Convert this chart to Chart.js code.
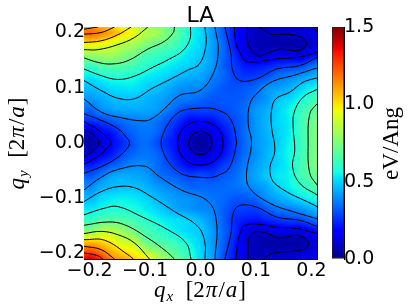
<!DOCTYPE html>
<html>
<head>
<meta charset="utf-8">
<title>LA</title>
<script src="https://cdn.jsdelivr.net/npm/chart.js@4"></script>
<style>
  html, body { margin: 0; padding: 0; background: #fff; }
  #wrap { position: relative; width: 407px; height: 305px; overflow: hidden; }
  canvas { position: absolute; left: 0; top: 0; }
</style>
</head>
<body>
<div id="wrap">
  <canvas id="mapa" width="407" height="305"></canvas>
  <canvas id="barra" width="407" height="305"></canvas>
</div>
<script>
// eixos e ticks
const qxGrid = [-.2,-.18,-.16,-.14,-.12,-.1,-.08,-.06,-.04,-.02,0,.02,.04,.06,.08,.1,.12,.14,.16,.18,.2];
const qyGrid = [.2,.18,.16,.14,.12,.1,.08,.06,.04,.02,0,-.02,-.04,-.06,-.08,-.1,-.12,-.14,-.16,-.18,-.2];
const qLimit = 0.21;
const qTicks = [-.2,-.1,0,.1,.2];
const cbTicks = [0,.5,1,1.5];
const cbMax = 1.5;
const chartTitle = 'LA';

// valores, uma linha por qy (de cima para baixo), em eV/Ang
const fieldRows = [
  [1.19,1.15,1.09,1.01,.945,.85,.82,.74,.675,.57,.51,.42,.32,.22,.13,.085,.095,.105,.105,.115,.13],
  [.995,.97,.93,.865,.83,.77,.715,.685,.63,.555,.505,.43,.34,.22,.125,.075,.065,.055,.055,.065,.105],
  [.8,.82,.82,.77,.73,.66,.63,.6,.565,.52,.485,.42,.34,.255,.16,.095,.115,.14,.135,.125,.18],
  [.63,.675,.685,.675,.64,.6,.57,.545,.515,.495,.46,.42,.33,.275,.22,.21,.23,.255,.275,.285,.34],
  [.53,.56,.58,.58,.57,.54,.52,.495,.465,.445,.43,.38,.34,.285,.265,.275,.305,.355,.38,.41,.445],
  [.465,.485,.515,.525,.525,.495,.475,.445,.41,.39,.39,.35,.315,.305,.315,.34,.4,.42,.445,.495,.54],
  [.41,.435,.465,.475,.475,.455,.435,.41,.37,.36,.34,.315,.315,.315,.33,.37,.41,.475,.505,.56,.62],
  [.33,.39,.42,.43,.435,.435,.42,.37,.315,.285,.285,.285,.295,.315,.35,.41,.445,.495,.55,.62,.675],
  [.255,.275,.315,.35,.37,.38,.36,.305,.255,.19,.19,.2,.255,.295,.34,.41,.455,.505,.54,.63,.71],
  [.095,.18,.22,.295,.34,.36,.34,.275,.2,.13,.095,.13,.2,.275,.35,.41,.455,.495,.54,.63,.72],
  [.05,.105,.19,.245,.315,.35,.305,.245,.19,.095,.03,.095,.18,.265,.34,.41,.445,.495,.55,.62,.72],
  [.105,.17,.22,.295,.34,.36,.34,.275,.2,.13,.095,.13,.2,.275,.35,.4,.455,.505,.56,.63,.72],
  [.22,.265,.315,.36,.39,.39,.35,.305,.245,.19,.19,.21,.265,.315,.37,.42,.465,.505,.55,.64,.72],
  [.315,.37,.43,.445,.435,.42,.37,.34,.315,.285,.305,.285,.315,.34,.39,.435,.485,.53,.55,.64,.685],
  [.39,.445,.465,.475,.475,.455,.42,.39,.37,.335,.335,.335,.34,.35,.37,.4,.435,.495,.54,.59,.64],
  [.455,.505,.53,.54,.53,.505,.465,.435,.41,.4,.38,.36,.34,.315,.315,.34,.4,.435,.475,.52,.56],
  [.53,.56,.58,.58,.57,.54,.505,.465,.43,.41,.39,.38,.33,.285,.275,.275,.315,.36,.37,.4,.445],
  [.62,.675,.685,.675,.64,.6,.56,.53,.515,.495,.455,.4,.33,.255,.22,.21,.23,.255,.275,.285,.33],
  [.77,.86,.86,.8,.73,.66,.62,.57,.53,.505,.485,.42,.34,.255,.15,.095,.115,.135,.135,.135,.18],
  [1.07,1.04,.98,.91,.88,.73,.675,.65,.61,.55,.495,.42,.33,.23,.13,.075,.055,.05,.055,.055,.105],
  [1.29,1.21,1.1,1.04,.98,.91,.82,.74,.665,.595,.505,.43,.315,.22,.125,.075,.085,.095,.095,.105,.13]
];

// contornos, pares [qx, qy]
const nivel01a = [[-.21,.025],[-.194,.016],[-.183,0],[-.194,-.014],[-.21,-.025]];
const nivel01b = [[.021,0],[.018,.0105],[.0105,.018],[0,.021],[-.0105,.018],[-.018,.0105],[-.021,0],[-.018,-.0105],[-.0105,-.018],[0,-.021],[.0105,-.018],[.018,-.0105],[.021,0]];
const nivel01c = [[.085,.21],[.086,.179],[.103,.158],[.124,.164],[.145,.17],[.175,.167],[.191,.179],[.181,.192],[.151,.197],[.127,.197],[.106,.21]];
const nivel01d = [[.203,.21],[.21,.202]];
const nivel01e = [[.086,-.21],[.086,-.181],[.089,-.169],[.101,-.16],[.121,-.164],[.143,-.172],[.173,-.167],[.194,-.178],[.191,-.19],[.167,-.196],[.133,-.199],[.113,-.21]];
const nivel02a = [[-.21,.039],[-.185,.024],[-.167,.008],[-.161,0],[-.167,-.008],[-.185,-.024],[-.21,-.039]];
const nivel02b = [[.041,0],[.036,.02],[.021,.034],[0,.039],[-.021,.034],[-.036,.02],[-.041,0],[-.036,-.02],[-.021,-.035],[0,-.04],[.021,-.035],[.036,-.02],[.041,0]];
const nivel02c = [[.061,.21],[.064,.179],[.071,.164],[.08,.149],[.103,.147],[.133,.152],[.175,.155],[.21,.164]];
const nivel02d = [[.21,-.164],[.175,-.155],[.133,-.152],[.103,-.147],[.08,-.149],[.071,-.164],[.067,-.181],[.064,-.21]];
const nivel03a = [[-.21,.053],[-.179,.041],[-.149,.026],[-.134,.011],[-.128,0],[-.134,-.012],[-.152,-.028],[-.179,-.043],[-.21,-.055]];
const nivel03b = [[.065,0],[.06,.03],[.049,.05],[.035,.058],[.019,.063],[-.006,.063],[-.032,.059],[-.046,.05],[-.056,.038],[-.066,.02],[-.071,0],[-.066,-.019],[-.056,-.037],[-.044,-.049],[-.029,-.058],[-.003,-.062],[.022,-.062],[.037,-.056],[.049,-.049],[.059,-.028],[.065,0]];
const nivel03c = [[.044,.21],[.055,.161],[.058,.131],[.071,.113],[.101,.116],[.137,.134],[.179,.14],[.21,.155]];
const nivel03d = [[.21,-.151],[.179,-.14],[.137,-.134],[.101,-.116],[.071,-.113],[.059,-.127],[.055,-.163],[.044,-.21]];
const nivel04a = [[-.21,.08],[-.179,.056],[-.149,.047],[-.101,.04],[-.083,.047],[-.065,.062],[-.038,.086],[-.001,.095],[.023,.126],[.032,.168],[.026,.21]];
const nivel04b = [[-.21,-.085],[-.179,-.062],[-.149,-.048],[-.101,-.042],[-.074,-.061],[-.035,-.085],[.014,-.106],[.029,-.145],[.026,-.21]];
const nivel04c = [[.21,.136],[.167,.122],[.131,.112],[.104,.092],[.089,.071],[.086,.035],[.092,0],[.083,-.055],[.089,-.082],[.125,-.109],[.166,-.124],[.21,-.137]];
const nivel05a = [[-.21,.113],[-.179,.095],[-.149,.081],[-.119,.08],[-.089,.098],[-.059,.113],[-.023,.132],[-.002,.143],[.01,.179],[.008,.21]];
const nivel05b = [[-.21,-.106],[-.179,-.088],[-.149,-.079],[-.119,-.081],[-.089,-.097],[-.047,-.124],[-.005,-.151],[.008,-.181],[.008,-.21]];
const nivel05c = [[.21,.118],[.185,.11],[.161,.092],[.136,.08],[.128,.059],[.128,.029],[.134,-.013],[.125,-.049],[.137,-.076],[.21,-.115]];
const nivel06a = [[-.21,.134],[-.179,.122],[-.149,.115],[-.119,.121],[-.086,.137],[-.056,.152],[-.032,.167],[-.019,.188],[-.018,.21]];
const nivel06b = [[-.21,-.13],[-.173,-.118],[-.149,-.115],[-.107,-.133],[-.059,-.157],[-.026,-.181],[-.017,-.21]];
const nivel06c = [[.21,.097],[.185,.083],[.169,.056],[.167,.029],[.17,-.013],[.166,-.043],[.179,-.073],[.21,-.094]];
const nivel07a = [[-.21,.154],[-.185,.146],[-.161,.143],[-.131,.149],[-.095,.17],[-.065,.184],[-.049,.2],[-.047,.21]];
const nivel07b = [[-.21,-.149],[-.167,-.143],[-.137,-.148],[-.095,-.172],[-.062,-.196],[-.047,-.21]];
const nivel07c = [[.21,.071],[.197,.053],[.194,0],[.197,-.055],[.21,-.076]];
const nivel08a = [[-.21,.169],[-.185,.169],[-.149,.178],[-.119,.191],[-.095,.21]];
const nivel08b = [[-.21,-.164],[-.179,-.16],[-.149,-.166],[-.119,-.181],[-.092,-.21]];
const nivel09a = [[-.21,.182],[-.179,.185],[-.149,.196],[-.125,.21]];
const nivel09b = [[-.21,-.175],[-.173,-.176],[-.131,-.202],[-.121,-.21]];
const nivel10a = [[-.21,.197],[-.179,.2],[-.155,.21]];
const nivel10b = [[-.21,-.187],[-.179,-.193],[-.155,-.21]];
const nivel11a = [[-.21,.206],[-.185,.21]];
const nivel11b = [[-.21,-.199],[-.185,-.204],[-.176,-.21]];

const contornos = [
  nivel01a,nivel01b,nivel01c,nivel01d,nivel01e,
  nivel02a,nivel02b,nivel02c,nivel02d,
  nivel03a,nivel03b,nivel03c,nivel03d,
  nivel04a,nivel04b,nivel04c,
  nivel05a,nivel05b,nivel05c,
  nivel06a,nivel06b,nivel06c,
  nivel07a,nivel07b,nivel07c,
  nivel08a,nivel08b,nivel09a,nivel09b,
  nivel10a,nivel10b,nivel11a,nivel11b
];

// textos dos eixos, pedaco a pedaco: [texto, italico, subscrito]
const xTitulo = [['q',1,0],['x',1,1],['  [2',0,0],['π',1,0],['/',0,0],['a',1,0],[']',0,0]];
const yTitulo = [['q',1,0],['y',1,1],['  [2',0,0],['π',1,0],['/',0,0],['a',1,0],[']',0,0]];
const cbTitulo = [['eV/Ang',0,0]];

// mapa de cores jet
function rampa(v, pts) {
  for (let i = 1; i < pts.length; i++) {
    if (v <= pts[i][0]) {
      const t = (v - pts[i-1][0]) / (pts[i][0] - pts[i-1][0]);
      return pts[i-1][1] + t * (pts[i][1] - pts[i-1][1]);
    }
  }
  return pts[pts.length-1][1];
}
function jet(v) {
  v = Math.max(0, Math.min(1, v));
  return [
    rampa(v, [[0,0],[.35,0],[.66,1],[.89,1],[1,.5]]),
    rampa(v, [[0,0],[.125,0],[.375,1],[.64,1],[.91,0],[1,0]]),
    rampa(v, [[0,.5],[.11,1],[.34,1],[.65,0],[1,0]])
  ].map(c => Math.round(c * 255));
}
function jetCss(v) {
  return 'rgb(' + jet(v).join(',') + ')';
}

// leitura da grade com extrapolacao nas bordas (as celulas vao ate 0.21)
function amostra(i, j) {
  const n = fieldRows.length - 1, m = fieldRows[0].length - 1;
  const ci = Math.max(0, Math.min(m, i)), cj = Math.max(0, Math.min(n, j));
  let v = fieldRows[cj][ci];
  if (i !== ci) v += (i - ci) * (v - fieldRows[cj][ci + (i < 0 ? 1 : -1)]);
  if (j !== cj) v += (j - cj) * (fieldRows[cj][ci] - fieldRows[cj + (j < 0 ? 1 : -1)][ci]);
  return v;
}
function catmull(a, b, c, d, t) {
  return b + .5 * t * (c - a + t * (2*a - 5*b + 4*c - d + t * (3*(b - c) + d - a)));
}
function bicubico(u, v) {
  const i = Math.floor(u), j = Math.floor(v), lin = [];
  for (let k = -1; k <= 2; k++) {
    lin.push(catmull(amostra(i-1,j+k), amostra(i,j+k), amostra(i+1,j+k), amostra(i+2,j+k), u - i));
  }
  return catmull(lin[0], lin[1], lin[2], lin[3], v - j);
}

// suaviza as celulas depois de desenhadas, como o imshow interpolado
const suavizaMapa = {
  id: 'suavizaMapa',
  afterDatasetDraw(chart, args) {
    if (args.index !== 0) return;
    const { left, top, right, bottom } = chart.chartArea;
    const x0 = Math.round(left), y0 = Math.round(top);
    const w = Math.round(right) - x0, h = Math.round(bottom) - y0;
    const off = document.createElement('canvas');
    off.width = w; off.height = h;
    const octx = off.getContext('2d');
    const img = octx.createImageData(w, h);
    const dx = qxGrid[1] - qxGrid[0], dy = qyGrid[0] - qyGrid[1];
    for (let py = 0; py < h; py++) {
      const qy = chart.scales.y.getValueForPixel(y0 + py + .5);
      for (let px = 0; px < w; px++) {
        const qx = chart.scales.x.getValueForPixel(x0 + px + .5);
        const c = jet(bicubico((qx - qxGrid[0]) / dx, (qyGrid[0] - qy) / dy) / cbMax);
        const p = 4 * (py * w + px);
        img.data[p] = c[0]; img.data[p+1] = c[1]; img.data[p+2] = c[2]; img.data[p+3] = 255;
      }
    }
    octx.putImageData(img, 0, 0);
    chart.ctx.drawImage(off, x0, y0);
  }
};

function textoMisto(ctx, partes, cx, cy, angulo, tam, tamSub) {
  const fonte = (p) => (p[1] ? 'italic ' : '') + (p[2] ? tamSub : tam) + 'px "Liberation Serif"';
  let total = 0;
  partes.forEach(p => { ctx.font = fonte(p); total += ctx.measureText(p[0]).width + 1; });
  ctx.save();
  ctx.translate(cx, cy);
  ctx.rotate(angulo);
  ctx.fillStyle = '#000';
  ctx.textBaseline = 'alphabetic';
  ctx.textAlign = 'left';
  let x = -total / 2;
  partes.forEach(p => {
    ctx.font = fonte(p);
    ctx.fillText(p[0], x, p[2] ? 4 : 0);
    x += ctx.measureText(p[0]).width + 1;
  });
  ctx.restore();
}

const titulosMapa = {
  id: 'titulosMapa',
  afterDraw(chart) {
    const a = chart.chartArea, mid = (a.left + a.right) / 2, midY = (a.top + a.bottom) / 2;
    textoMisto(chart.ctx, xTitulo, mid, 297, 0, 23, 15);
    textoMisto(chart.ctx, yTitulo, 24, midY, -Math.PI / 2, 23, 15);
  }
};
const tituloBarra = {
  id: 'tituloBarra',
  afterDraw(chart) {
    const a = chart.chartArea;
    textoMisto(chart.ctx, cbTitulo, 398, (a.top + a.bottom) / 2, -Math.PI / 2, 23, 15);
  }
};

const tickTexto = v => v.toFixed(1).replace('-', '\u2212');
function eixoTicks(scale) {
  scale.ticks = qTicks.map(v => ({ value: v }));
}
const gradeEixo = { drawOnChartArea: false, color: '#000', tickLength: -4, tickWidth: 1 };
const bordaEixo = { color: '#000', width: 1 };
const fonteTick = { family: '"DejaVu Sans"', size: 19 };

// celulas da grade
const celulas = [];
fieldRows.forEach((linha, j) => {
  linha.forEach((v, i) => celulas.push({ x: qxGrid[i], y: qyGrid[j], v: v }));
});

const datasets = [{
  label: 'LA',
  data: celulas,
  order: 1,
  showLine: false,
  pointStyle: 'rect',
  pointBorderWidth: 0,
  pointRadius: (c) => {
    const e = c.chart.scales.x;
    return Math.SQRT2 * Math.abs(e.getPixelForValue(qxGrid[1]) - e.getPixelForValue(qxGrid[0])) / 2 + .5;
  },
  pointBackgroundColor: (c) => jetCss(c.raw.v / cbMax)
}];
contornos.forEach((linha, n) => {
  datasets.push({
    label: 'contorno ' + n,
    data: linha.map(p => ({ x: p[0], y: p[1] })),
    order: 0,
    showLine: true,
    pointRadius: 0,
    borderColor: '#000',
    borderWidth: 1,
    tension: 0.4
  });
});

new Chart(document.getElementById('mapa'), {
  type: 'scatter',
  data: { datasets: datasets },
  plugins: [suavizaMapa, titulosMapa],
  options: {
    responsive: false,
    animation: false,
    events: [],
    layout: { padding: 0 },
    plugins: {
      legend: { display: false },
      tooltip: { enabled: false },
      title: {
        display: true,
        text: chartTitle,
        fullSize: false,
        color: '#000',
        font: { family: '"DejaVu Sans"', size: 22, weight: 'normal', lineHeight: 1 },
        padding: { top: 5, bottom: 0 }
      }
    },
    scales: {
      x: {
        type: 'linear', position: 'bottom', min: -qLimit, max: qLimit,
        afterBuildTicks: eixoTicks,
        afterFit: (s) => { s.height = 46; },
        grid: gradeEixo, border: bordaEixo,
        ticks: { callback: tickTexto, color: '#000', font: fonteTick, padding: 5, maxRotation: 0, autoSkip: false }
      },
      y: {
        type: 'linear', position: 'left', min: -qLimit, max: qLimit,
        afterBuildTicks: eixoTicks,
        afterFit: (s) => { s.width = 84; },
        grid: gradeEixo, border: bordaEixo,
        ticks: { callback: tickTexto, color: '#000', font: fonteTick, padding: 3, autoSkip: false }
      },
      xTop: {
        type: 'linear', axis: 'x', position: 'top', min: -qLimit, max: qLimit,
        afterBuildTicks: eixoTicks,
        afterFit: (s) => { s.height = 0; },
        grid: gradeEixo, border: bordaEixo,
        ticks: { display: false }
      },
      yRight: {
        type: 'linear', axis: 'y', position: 'right', min: -qLimit, max: qLimit,
        afterBuildTicks: eixoTicks,
        afterFit: (s) => { s.width = 90; },
        grid: gradeEixo, border: bordaEixo,
        ticks: { display: false }
      }
    }
  }
});

// barra de cores
new Chart(document.getElementById('barra'), {
  type: 'bar',
  data: {
    labels: ['eV/Ang'],
    datasets: [{
      data: [[0, cbMax]],
      categoryPercentage: 1,
      barPercentage: 1,
      borderColor: '#222',
      borderWidth: 1,
      borderSkipped: false,
      backgroundColor: (c) => {
        const a = c.chart.chartArea;
        if (!a) return '#000';
        const g = c.chart.ctx.createLinearGradient(0, a.bottom, 0, a.top);
        for (let k = 0; k <= 64; k++) g.addColorStop(k / 64, jetCss(k / 64));
        return g;
      }
    }]
  },
  plugins: [tituloBarra],
  options: {
    responsive: false,
    animation: false,
    events: [],
    layout: { padding: { left: 332, top: 27, bottom: 46 } },
    plugins: { legend: { display: false }, tooltip: { enabled: false } },
    scales: {
      x: { display: false },
      y: {
        position: 'right', min: 0, max: cbMax,
        afterBuildTicks: (s) => { s.ticks = cbTicks.map(v => ({ value: v })); },
        afterFit: (s) => { s.width = 63; },
        grid: {
          drawOnChartArea: false, tickLength: -4, tickWidth: 1,
          tickColor: (c) => (c.tick && (c.tick.value === 0 || c.tick.value === cbMax) ? 'rgba(0,0,0,0)' : '#000')
        },
        border: bordaEixo,
        ticks: { callback: tickTexto, color: '#000', font: fonteTick, padding: 4, autoSkip: false }
      }
    }
  }
});
</script>
</body>
</html>
